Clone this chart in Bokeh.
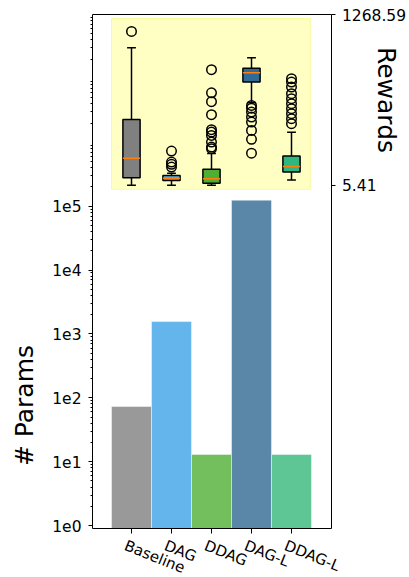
import math
from bokeh.plotting import figure
from bokeh.models import (Range1d, LinearAxis, LogAxis, LinearScale, LogScale,
                          FixedTicker, Label)
from bokeh.embed import file_html
from bokeh.resources import INLINE

# ---------------- data ----------------
categories = ["Baseline", "DAG", "DDAG", "DAG-L", "DDAG-L"]
params = [73, 1560, 13, 124000, 13]

bar_colors = ["#999999", "#63b5ec", "#74bf5d", "#5a87a8", "#5ec695"]
box_colors = ["#808080", "#59aee8", "#4daf34", "#2f6a98", "#2fb77f"]

# reward box statistics
rw_low = [5.41, 6, 6, 617, 45]
rw_q1 = [62, 42, 22, 770, 104]
rw_med = [207, 59, 55, 839, 146]
rw_q3 = [494, 79, 124, 873, 222]
rw_high = [1024, 96, 242, 950, 398]
rw_outliers = [
    [1145],
    [259, 178, 161, 141],
    [862, 691, 625, 529, 418, 400, 375, 326, 289, 277],
    [597, 577, 548, 511, 474, 412, 346, 244],
    [795, 770, 733, 684, 647, 610, 573, 536, 499, 462],
]
reward_ticks = [5.41, 1268.59]
param_ticks = [1, 10, 100, 1000, 10000, 100000]

FONT = "DejaVu Sans"

# ---------------- layout ----------------
W, H = 409, 577
AX_L, AX_R, AX_T, AX_B = 92, 331, 14, 528      # axes box in canvas pixels
X_LO, X_HI = -0.975, 5.0                         # category axis limits
Y_LO, Y_HI = 0.9, 1e8                            # params (log) axis limits
R_LO, R_HI = -2535.0, 1270.5                     # rewards axis limits

kx = (AX_R - AX_L) / (X_HI - X_LO)
ky = (AX_B - AX_T) / (math.log10(Y_HI) - math.log10(Y_LO))
kr = (AX_B - AX_T) / (R_HI - R_LO)


def x_at(px):
    return X_LO + (px - AX_L) / kx


def y_at(py):
    return 10 ** (math.log10(Y_LO) + (AX_B - py) / ky)


def r_at(py):
    return R_LO + (AX_B - py) / kr


p = figure(width=W, height=H, y_axis_type="log",
           x_axis_location=None, y_axis_location=None,
           x_range=Range1d(x_at(0), x_at(W)), y_range=Range1d(y_at(H), y_at(0)),
           output_backend="svg", toolbar_location=None,
           min_border=0, min_border_left=0, min_border_right=0,
           min_border_top=0, min_border_bottom=0)
p.y_scale = LogScale()
p.extra_y_ranges = {"rewards": Range1d(r_at(H), r_at(0))}
p.extra_y_scales = {"rewards": LinearScale()}
p.xgrid.visible = False
p.ygrid.visible = False
p.outline_line_color = None
p.background_fill_color = "white"
p.border_fill_color = "white"

xs = list(range(len(categories)))

# yellow inset background
p.quad(left=[-0.5], right=[4.47], bottom=[-24], top=[1241],
       fill_color="#ffffc4", line_color="#fbfb9e", line_width=1,
       y_range_name="rewards")

# bars
p.vbar(x=xs, width=1.0, bottom=Y_LO, top=params, fill_color=bar_colors,
       line_color="white", line_alpha=0.45, line_width=1)

# box plots
p.segment(x0=xs, y0=rw_q3, x1=xs, y1=rw_high, line_color="black",
          line_width=1.5, y_range_name="rewards")
p.segment(x0=xs, y0=rw_q1, x1=xs, y1=rw_low, line_color="black",
          line_width=1.5, y_range_name="rewards")
cap = 0.11
p.segment(x0=[x - cap for x in xs], y0=rw_high, x1=[x + cap for x in xs],
          y1=rw_high, line_color="black", line_width=1.5, y_range_name="rewards")
p.segment(x0=[x - cap for x in xs], y0=rw_low, x1=[x + cap for x in xs],
          y1=rw_low, line_color="black", line_width=1.5, y_range_name="rewards")
bw = 0.43
p.vbar(x=xs, width=bw, bottom=rw_q1, top=rw_q3, fill_color=box_colors,
       line_color="black", line_width=1.5, y_range_name="rewards")
p.segment(x0=[x - bw / 2 for x in xs], y0=rw_med, x1=[x + bw / 2 for x in xs],
          y1=rw_med, line_color="#ff7f0e", line_width=1.5, y_range_name="rewards")
ox, oy = [], []
for x, outs in zip(xs, rw_outliers):
    ox += [x] * len(outs)
    oy += outs
p.scatter(x=ox, y=oy, marker="circle", size=9.5, fill_color=None,
          line_color="black", line_width=1.5, y_range_name="rewards")

# ---------------- axes (drawn at fixed locations, ticks pointing outward) ----------------
minor = [m * 10 ** k for k in range(0, 8) for m in range(2, 10)]
left_minor = LogAxis(ticker=FixedTicker(ticks=[], minor_ticks=minor),
                     fixed_location=X_LO, bounds=(Y_LO, Y_HI),
                     minor_tick_in=2, minor_tick_out=0, major_tick_in=0,
                     major_tick_out=0, axis_line_color="black",
                     minor_tick_line_color="black")
p.add_layout(left_minor, "right")
left_major = LogAxis(ticker=FixedTicker(ticks=[], minor_ticks=param_ticks),
                     fixed_location=X_LO, bounds=(Y_LO, Y_HI),
                     minor_tick_in=4, minor_tick_out=0, major_tick_in=0,
                     major_tick_out=0, axis_line_color=None,
                     minor_tick_line_color="black")
p.add_layout(left_major, "right")

right_axis = LinearAxis(y_range_name="rewards",
                        ticker=FixedTicker(ticks=[], minor_ticks=reward_ticks),
                        fixed_location=X_HI, bounds=(R_LO, R_HI),
                        minor_tick_in=4, minor_tick_out=0, major_tick_in=0,
                        major_tick_out=0, axis_line_color="black",
                        minor_tick_line_color="black")
p.add_layout(right_axis, "left")

bottom_axis = LinearAxis(ticker=FixedTicker(ticks=[], minor_ticks=xs),
                         fixed_location=Y_LO, bounds=(X_LO, X_HI),
                         minor_tick_in=5, minor_tick_out=0, major_tick_in=0,
                         major_tick_out=0, axis_line_color="black",
                         minor_tick_line_color="black")
p.add_layout(bottom_axis, "above")

top_axis = LinearAxis(ticker=FixedTicker(ticks=[], minor_ticks=[]),
                      fixed_location=Y_HI, bounds=(X_LO, X_HI),
                      minor_tick_in=0, minor_tick_out=0, major_tick_in=0,
                      major_tick_out=0, axis_line_color="black")
p.add_layout(top_axis, "above")

# ---------------- tick labels ----------------
for t in param_ticks:
    p.add_layout(Label(x=X_LO, y=t, text="1e%d" % round(math.log10(t)),
                       x_offset=-11, text_align="right", text_baseline="middle",
                       text_font=FONT, text_font_size="15.5px", text_color="black"))
for t in reward_ticks:
    p.add_layout(Label(x=X_HI, y=t, y_range_name="rewards", text="%.2f" % t,
                       x_offset=10.5, text_align="left", text_baseline="middle",
                       text_font=FONT, text_font_size="15.5px", text_color="black"))
for x, c in zip(xs, categories):
    p.add_layout(Label(x=x, y=y_at(536), text=c, angle=-0.384, x_offset=-3,
                       text_align="left", text_baseline="top", text_font=FONT,
                       text_font_size="15px", text_color="black"))

# ---------------- axis titles ----------------
p.add_layout(Label(x=x_at(23.5), y=y_at(405), text="# Params", angle=math.pi / 2,
                   text_align="center", text_baseline="middle", text_font=FONT,
                   text_font_size="25px", text_color="black"))
p.add_layout(Label(x=x_at(386), y=r_at(99.5), y_range_name="rewards",
                   text="Rewards", angle=-math.pi / 2, text_align="center",
                   text_baseline="middle", text_font=FONT, text_font_size="25px",
                   text_color="black"))

open("out.html", "w").write(file_html(p, INLINE))
